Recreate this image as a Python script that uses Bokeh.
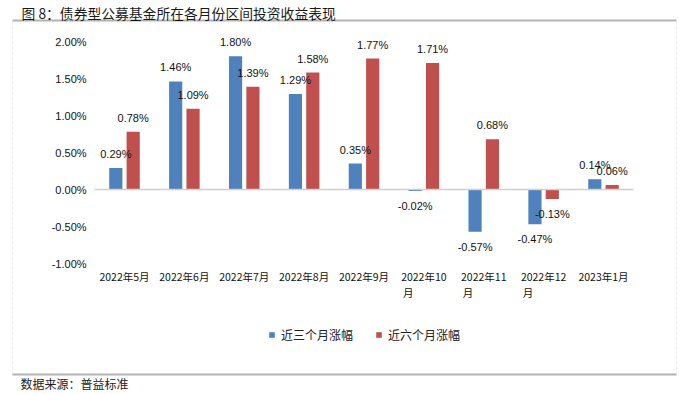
from bokeh.plotting import figure
from bokeh.models import (ColumnDataSource, Range1d, LabelSet, Label, LinearAxis,
                          PolyAnnotation, Legend, LegendItem, FixedTicker, PrintfTickFormatter,
                          CustomJSTickFormatter)
from bokeh.core.properties import value
from bokeh.transform import dodge
from bokeh.embed import file_html
from bokeh.resources import INLINE

# ---- data ----
months = ["2022年5月", "2022年6月", "2022年7月", "2022年8月", "2022年9月",
          "2022年10月", "2022年11月", "2022年12月", "2023年1月"]
near3 = [0.29, 1.46, 1.80, 1.29, 0.35, -0.02, -0.57, -0.47, 0.14]
near6 = [0.78, 1.09, 1.39, 1.58, 1.77, 1.71, 0.68, -0.13, 0.06]
series_names = ["近三个月涨幅", "近六个月涨幅"]
y_ticks = [-1.0, -0.5, 0.0, 0.5, 1.0, 1.5, 2.0]
title_text = "图 8：债券型公募基金所在各月份区间投资收益表现"
source_text = "数据来源：普益标准"

BLUE = "#4F81BD"
RED = "#C0504D"
CJK = "Noto Sans CJK SC"
NUM = "Liberation Sans"

W, H = 687, 394
# plot-area geometry (pixels) of the original chart
X0, DX = 124.0, 59.875          # centre of first category, category pitch
Y2, PX_PER_UNIT = 41.0, 74.0    # pixel row of the 2.00% tick, pixels per 1%

idx = list(range(len(months)))
# long month names (two-digit month) wrap: "2022年10" on line one, "月" on line two
is_long = [len(m) > 7 for m in months]
line1 = [m[:-1] if lg else m for m, lg in zip(months, is_long)]
wrapped = [i for i, lg in zip(idx, is_long) if lg]

src = ColumnDataSource(dict(
    pos=idx,
    v3=near3,
    v6=near6,
    lab3=["%.2f%%" % v for v in near3],
    lab6=["%.2f%%" % v for v in near6],
    off3=[14 if v >= 0 else -15 for v in near3],
    off6=[14 if v >= 0 else -15 for v in near6],
))

x_start = -X0 / DX
x_end = (W - X0) / DX
y_end = 2 + Y2 / PX_PER_UNIT
y_start = 2 - (H - Y2) / PX_PER_UNIT

p = figure(width=W, height=H, x_range=Range1d(x_start, x_end), y_range=Range1d(y_start, y_end),
           output_backend="svg", toolbar_location=None, x_axis_type=None, y_axis_type=None,
           min_border=0, min_border_left=0, min_border_right=0, min_border_top=0,
           min_border_bottom=0)
p.outline_line_color = None
p.background_fill_color = "white"
p.border_fill_color = "white"
p.grid.visible = False

# zero line (category axis crossing at 0)
zero_axis = LinearAxis(fixed_location=0, bounds=(-0.5, len(months) - 0.5),
                       ticker=FixedTicker(ticks=[]), axis_line_color="#d0d0d0",
                       axis_line_width=1.5, major_tick_line_color=None,
                       minor_tick_line_color=None, major_label_text_font_size="0px")
p.add_layout(zero_axis, "below")

r3 = p.vbar(x=dodge("pos", -0.145), top="v3", width=0.22,
            source=src, fill_color=BLUE, line_color=None)
r6 = p.vbar(x=dodge("pos", 0.145), top="v6", width=0.22,
            source=src, fill_color=RED, line_color=None)

for tcol, vcol, ocol, dx in (("lab3", "v3", "off3", -0.145), ("lab6", "v6", "off6", 0.145)):
    ls = LabelSet(x=dodge("pos", dx), y=vcol, text=tcol,
                  y_offset=ocol, source=src, text_align="center", text_baseline="middle",
                  text_font=value(NUM), text_font_size=value("11px"), text_color="#111111")
    p.add_layout(ls)

# y axis drawn at the left edge of the plot area
yaxis = LinearAxis(fixed_location=-0.5, ticker=FixedTicker(ticks=y_ticks),
                   formatter=PrintfTickFormatter(format="%.2f%%"),
                   axis_line_color=None, major_tick_line_color=None,
                   minor_tick_line_color=None, major_tick_out=0, major_tick_in=0,
                   major_label_standoff=8, major_label_text_font=NUM,
                   major_label_text_font_size="11px", major_label_text_color="#111111")
p.add_layout(yaxis, "left")

# category axis along the bottom of the plot area (two label lines)
common = dict(axis_line_color=None, major_tick_line_color=None, minor_tick_line_color=None,
              major_tick_out=0, major_tick_in=0, major_label_text_font=CJK,
              major_label_text_font_size="10.5px", major_label_text_color="#111111")
xaxis = LinearAxis(fixed_location=-1.0, ticker=FixedTicker(ticks=idx),
                   formatter=CustomJSTickFormatter(args=dict(labels=line1),
                                                   code="return labels[Math.round(tick)] ?? '';"),
                   major_label_standoff=5, **common)
p.add_layout(xaxis, "below")
xaxis2 = LinearAxis(fixed_location=-1.0, ticker=FixedTicker(ticks=wrapped),
                    formatter=CustomJSTickFormatter(code="return '月\u3000\u3000\u3000';"),
                    major_label_standoff=21, **common)
p.add_layout(xaxis2, "below")

# legend
legend = Legend(items=[LegendItem(label=series_names[0], renderers=[r3]),
                       LegendItem(label=series_names[1], renderers=[r6])],
                orientation="horizontal", location=(268, 51),
                glyph_width=7, glyph_height=7, label_height=12, label_standoff=6,
                spacing=22, padding=0, margin=0, border_line_color=None,
                background_fill_alpha=0, label_text_font=CJK, label_text_font_size="12px",
                label_text_color="#222222")
p.add_layout(legend, "center")

# title, frame lines, source (canvas units: y measured from the top)
p.add_layout(Label(x=21, y=12, x_units="canvas", y_units="canvas", text=title_text,
                   text_font=CJK, text_font_size="13.8px", text_baseline="middle",
                   text_color="#1a1a1a"))
p.add_layout(Label(x=20, y=383, x_units="canvas", y_units="canvas", text=source_text,
                   text_font=CJK, text_font_size="12px", text_baseline="middle",
                   text_color="#222222"))

for ypx in (20, 374):
    p.add_layout(PolyAnnotation(xs=[12, 676], ys=[ypx, ypx], xs_units="canvas", ys_units="canvas",
                                fill_alpha=0, line_color="black", line_width=2))
for xpx in (12, 676):
    p.add_layout(PolyAnnotation(xs=[xpx, xpx], ys=[21, 373], xs_units="canvas", ys_units="canvas",
                                fill_alpha=0, line_color="#c0c0c0", line_width=1,
                                line_dash="3 2"))

open("out.html", "w").write(file_html(p, INLINE))
